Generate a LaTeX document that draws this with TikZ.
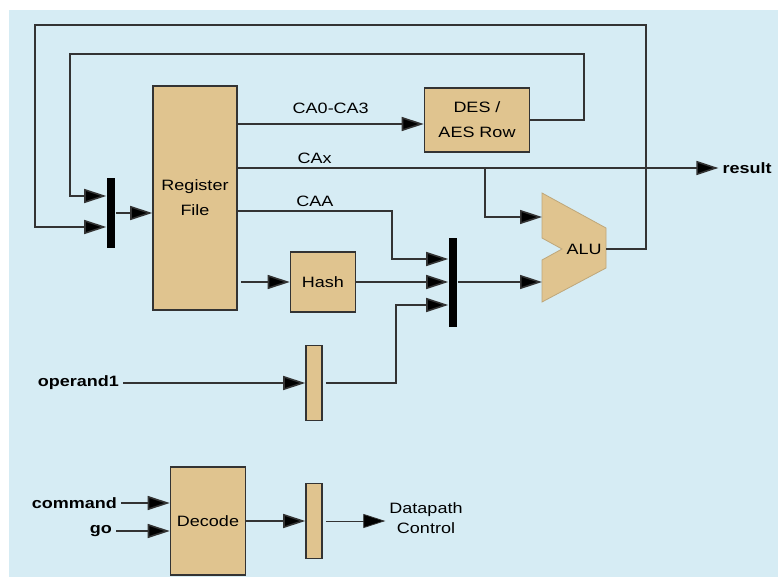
\documentclass[tikz,border=0pt]{standalone}
\usepackage{fontspec}
\setmainfont[FakeStretch=1.2]{Liberation Sans}
\usetikzlibrary{arrows.meta,positioning,calc}
\definecolor{dpBlue}{HTML}{D6ECF4}
\definecolor{dpTan}{HTML}{E0C48F}
\definecolor{dpLine}{HTML}{333333}
\begin{document}
\begin{tikzpicture}[x=1pt,y=-1pt,>={Triangle[length=22pt,width=14pt,fill=black]},
  font=\fontsize{15}{20}\selectfont,line width=1.6pt,draw=dpLine,text=black,
  blk/.style={draw=dpLine,fill=dpTan,line width=1.6pt,inner sep=0pt,align=center},
  bar/.style={fill=black,draw=none,minimum width=8pt,inner sep=0pt},
  pipe/.style={blk,minimum width=16pt,minimum height=75pt},
  pin/.style={font=\fontsize{15}{20}\selectfont\bfseries}]
  \useasboundingbox (0,0) rectangle (778,577);
  \fill[dpBlue] (9,10) rectangle (778,577);

  % blocks
  \node[blk,minimum width=84pt,minimum height=224pt] (regfile) at (195,198) {Register\\[5pt]File};
  \node[blk,minimum width=105pt,minimum height=64pt] (des) at (477,120) {DES /\\[5pt]AES Row};
  \node[blk,minimum width=65pt,minimum height=60pt] (hash) at (323,282) {Hash};
  \node[blk,minimum width=75pt,minimum height=108pt] (decode) at (208,521) {Decode};
  \node[bar,minimum height=70pt] (mux1) at (111,213) {};
  \node[bar,minimum height=89pt] (mux2) at (453,282) {};
  \node[pipe] (opreg) at (314,383) {};
  \node[pipe] (ctlreg) at (314,521) {};

  % ALU
  \filldraw[fill=dpTan,draw=dpTan!85!black,line width=0.8pt] (542,193) -- (606,228) -- (606,268)
    -- (542,302) -- (542,260) -- (562,249) -- (542,238) -- cycle;
  \node (alu) at (584,249) {ALU};
  \coordinate (aluA) at (542,217);
  \coordinate (aluB) at (542,282);
  \coordinate (aluout) at (606,249);

  % ports
  \node[pin] (result) at (747,168) {result};
  \node[pin,anchor=east] (op) at (123,383) {operand1};
  \node[pin,anchor=east] (cmd) at (121,503) {command};
  \node[pin,anchor=east] (go) at (116,531) {go};
  \node[align=center] (dpc) at (426,518) {Datapath\\Control};
  \coordinate (tap) at (485,168);

  % wires
  \draw[->] (aluout) -- (646,249) |- (35,25) |- ($(mux1.west)+(0,14)$);
  \draw[->] (des.east) -- (584,120) |- (70,54) |- ($(mux1.west)+(0,-17)$);
  \draw[->] (mux1.east) -- (mux1.east -| regfile.west);
  \draw[->] (regfile.east |- 0,124) -- node[above=6pt]{CA0-CA3} (des.west |- 0,124);
  \draw[->] (regfile.east |- result) -- node[above,pos=0.16]{CAx} (result.west);
  \draw[->] (tap) |- (aluA);
  \draw[->] (regfile.east |- 0,211) -- node[above]{CAA} (392,211) |- ($(mux2.west)+(0,-23)$);
  \draw[->] ([xshift=3pt]regfile.east |- hash.west) -- (hash.west);
  \draw[->] (hash.east) -- (hash.east -| mux2.west);
  \draw[->] (mux2.east) -- (aluB);
  \draw[->] (op.east) -- (opreg.west);
  \draw[->] ([xshift=3pt]opreg.east) -- ++(70,0) |- ($(mux2.west)+(0,23)$);
  \draw[->] (cmd.east) -- (decode.west |- cmd);
  \draw[->] (go.east) -- (decode.west |- go);
  \draw[->] (decode.east) -- (decode.east -| ctlreg.west);
  \draw[->,line width=0.8pt] ([xshift=3pt]ctlreg.east) -- (ctlreg.east -| dpc.west);
\end{tikzpicture}
\end{document}
